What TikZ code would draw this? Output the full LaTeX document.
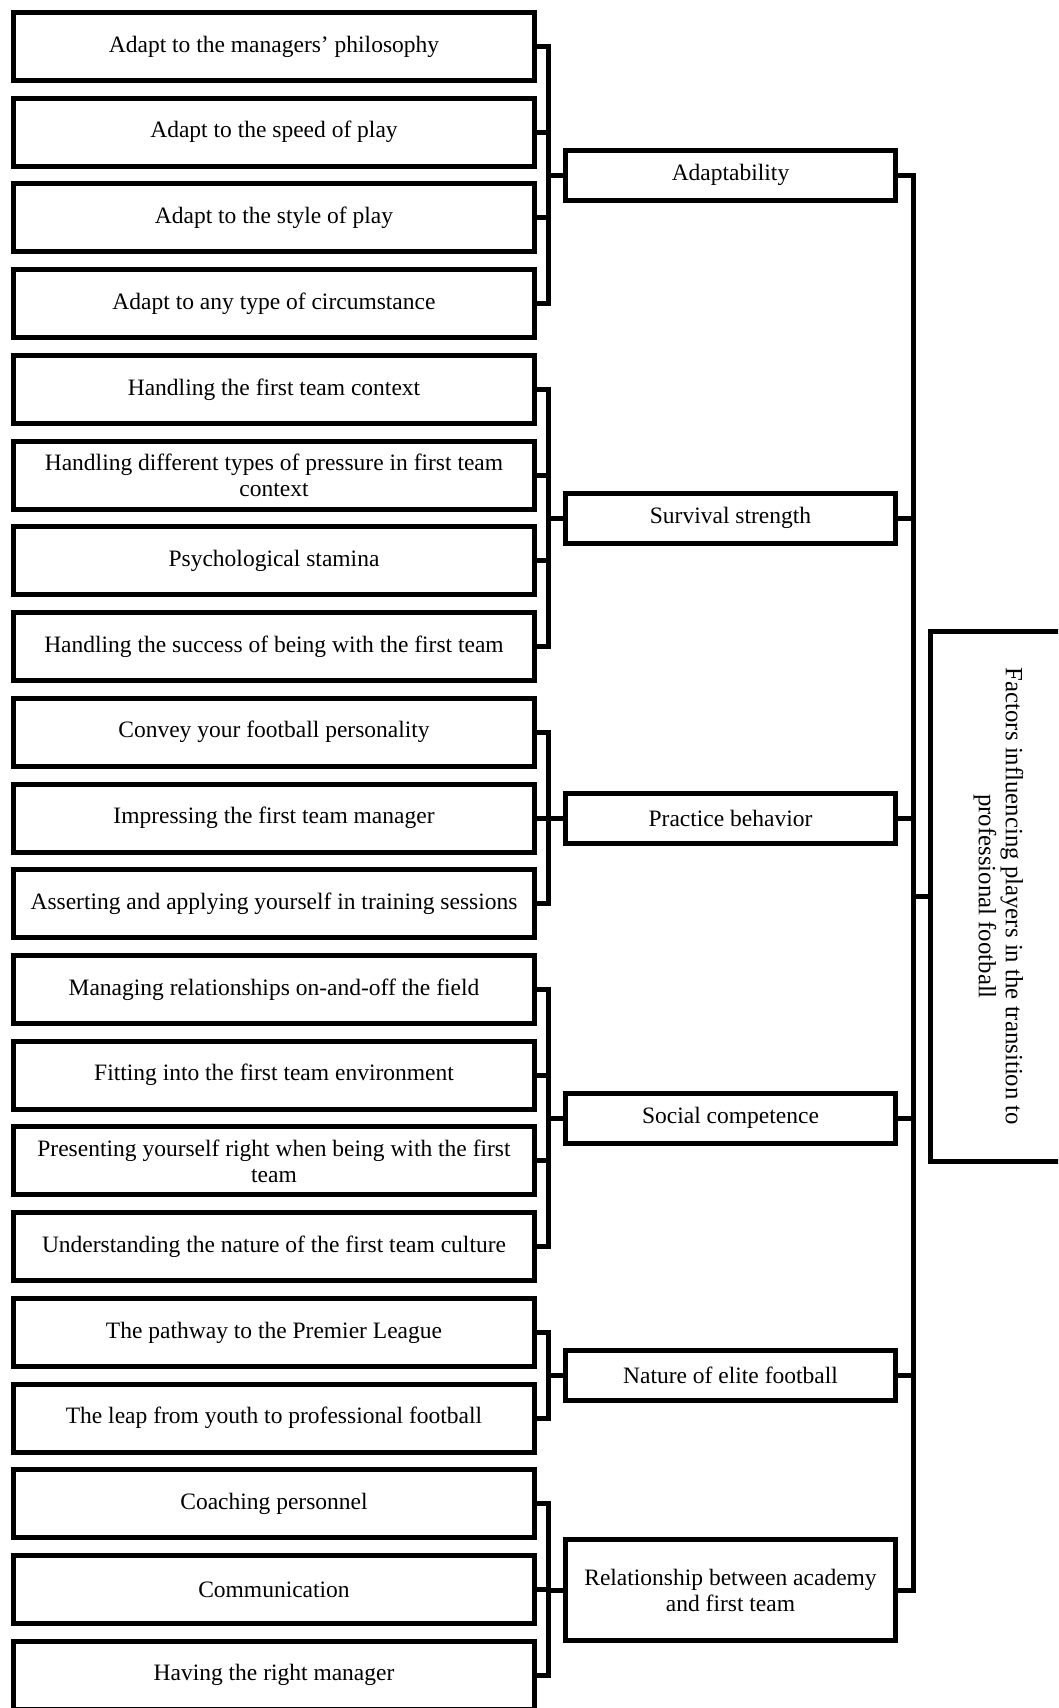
\documentclass[tikz,border=0pt]{standalone}
\usepackage{fontspec}
\setmainfont{Liberation Serif}
\usetikzlibrary{positioning}

\begin{document}
\begin{tikzpicture}[
  x=1pt,y=-1pt,
  every node/.style={font=\fontsize{23.5}{26}\selectfont},
  factorbox/.style={draw,line width=5pt,minimum width=521pt,minimum height=68pt,align=center,inner sep=0pt},
  themebox/.style={draw,line width=5pt,minimum width=330pt,minimum height=50pt,align=center,inner sep=0pt},
  link/.style={line width=5pt}
]
\clip (0,0) rectangle (1058,1708);

% Adaptability
\node[factorbox] (philosophy) at (274,46.4) {Adapt to the managers' philosophy};
\node[factorbox] (speed) at (274,132.1) {Adapt to the speed of play};
\node[factorbox] (style) at (274,217.9) {Adapt to the style of play};
\node[factorbox] (circumstance) at (274,303.6) {Adapt to any type of circumstance};
\node[themebox] (adaptability) at (730.5,175) {Adaptability};
\draw[link] (philosophy.east) -- ++(11,0) |- (adaptability.west);
\draw[link] (speed.east) -- ++(11,0) |- (adaptability.west);
\draw[link] (style.east) -- ++(11,0) |- (adaptability.west);
\draw[link] (circumstance.east) -- ++(11,0) |- (adaptability.west);

% Survival strength
\node[factorbox] (context) at (274,389.3) {Handling the first team context};
\node[factorbox] (pressure) at (274,475.1) {Handling different types of pressure in first team\\context};
\node[factorbox] (stamina) at (274,560.8) {Psychological stamina};
\node[factorbox] (success) at (274,646.5) {Handling the success of being with the first team};
\node[themebox] (survival) at (730.5,518) {Survival strength};
\draw[link] (context.east) -- ++(11,0) |- (survival.west);
\draw[link] (pressure.east) -- ++(11,0) |- (survival.west);
\draw[link] (stamina.east) -- ++(11,0) |- (survival.west);
\draw[link] (success.east) -- ++(11,0) |- (survival.west);

% Practice behavior
\node[factorbox] (personality) at (274,732.2) {Convey your football personality};
\node[factorbox] (impress) at (274,818.0) {Impressing the first team manager};
\node[factorbox] (assert) at (274,903.7) {Asserting and applying yourself in training sessions};
\node[themebox] (practice) at (730.5,818) {Practice behavior};
\draw[link] (personality.east) -- ++(11,0) |- (practice.west);
\draw[link] (impress.east) -- ++(11,0) |- (practice.west);
\draw[link] (assert.east) -- ++(11,0) |- (practice.west);

% Social competence
\node[factorbox] (relations) at (274,989.4) {Managing relationships on-and-off the field};
\node[factorbox] (fitting) at (274,1075.2) {Fitting into the first team environment};
\node[factorbox] (presenting) at (274,1160.9) {Presenting yourself right when being with the first\\team};
\node[factorbox] (culture) at (274,1246.6) {Understanding the nature of the first team culture};
\node[themebox] (social) at (730.5,1118) {Social competence};
\draw[link] (relations.east) -- ++(11,0) |- (social.west);
\draw[link] (fitting.east) -- ++(11,0) |- (social.west);
\draw[link] (presenting.east) -- ++(11,0) |- (social.west);
\draw[link] (culture.east) -- ++(11,0) |- (social.west);

% Nature of elite football
\node[factorbox] (pathway) at (274,1332.4) {The pathway to the Premier League};
\node[factorbox] (leap) at (274,1418.1) {The leap from youth to professional football};
\node[themebox] (nature) at (730.5,1375) {Nature of elite football};
\draw[link] (pathway.east) -- ++(11,0) |- (nature.west);
\draw[link] (leap.east) -- ++(11,0) |- (nature.west);

% Relationship between academy and first team
\node[factorbox] (coaching) at (274,1503.8) {Coaching personnel};
\node[factorbox] (communication) at (274,1589.5) {Communication};
\node[factorbox] (manager) at (274,1675.3) {Having the right manager};
\node[themebox,minimum height=101pt] (relationship) at (730.5,1590) {Relationship between academy\\and first team};
\draw[link] (coaching.east) -- ++(11,0) |- (relationship.west);
\draw[link] (communication.east) -- ++(11,0) |- (relationship.west);
\draw[link] (manager.east) -- ++(11,0) |- (relationship.west);

% Overall theme (right side runs off the page)
\node[draw,line width=5pt,rotate=-90,minimum width=530pt,minimum height=136pt,align=center,inner sep=0pt,font=\fontsize{24.8}{27}\selectfont] (factors) at (998.5,896.5) {Factors influencing players in the transition to\\professional football};
\draw[link] (adaptability.east) -- ++(15,0) |- (factors.south);
\draw[link] (survival.east) -- ++(15,0) |- (factors.south);
\draw[link] (practice.east) -- ++(15,0) |- (factors.south);
\draw[link] (social.east) -- ++(15,0) |- (factors.south);
\draw[link] (nature.east) -- ++(15,0) |- (factors.south);
\draw[link] (relationship.east) -- ++(15,0) |- (factors.south);
\end{tikzpicture}
\end{document}
